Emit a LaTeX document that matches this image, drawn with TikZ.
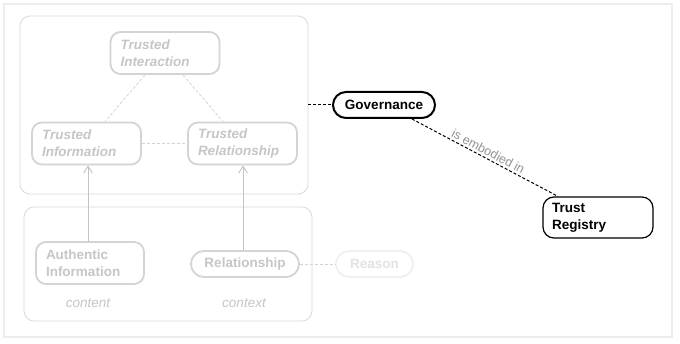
\documentclass[tikz,border=0pt]{standalone}
\usepackage{fontspec}
\setmainfont{Liberation Sans}
\usetikzlibrary{arrows.meta,positioning}
\definecolor{fadeline}{HTML}{D4D4D4}
\definecolor{fadetext}{HTML}{C6C6C6}
\definecolor{groupline}{HTML}{DADADA}
\definecolor{frameline}{HTML}{EDEDED}
\definecolor{ghost}{HTML}{F0F0F0}
\definecolor{ghosttext}{HTML}{E2E2E2}
\tikzset{
  fnt/.style={font=\fontsize{13.5}{17}\selectfont\bfseries},
  fadebox/.style={draw=fadeline, line width=1.8pt, rounded corners=10pt, fnt, text=fadetext,
     align=left, inner sep=0pt, minimum height=42pt},
  pillbox/.style={draw=fadeline, line width=1.8pt, rounded corners=13pt, fnt, text=fadetext,
     inner sep=0pt, minimum height=26pt},
  groupbox/.style={draw=groupline, line width=0.8pt, rounded corners=10pt, inner sep=0pt},
  govbox/.style={draw=black, line width=2pt, rounded corners=13pt, fnt, text=black,
     inner sep=0pt, minimum height=26pt, minimum width=102pt},
  regbox/.style={draw=black, line width=1.2pt, rounded corners=11pt, fnt, text=black,
     align=left, inner sep=0pt, minimum height=41pt, minimum width=110pt},
  dashgray/.style={draw=fadeline, line width=0.8pt, dash pattern=on 3pt off 2pt},
  dashblack/.style={draw=black, line width=1pt, dash pattern=on 3pt off 2pt},
  uparrow/.style={draw=fadeline!80!gray, line width=0.9pt, -{Straight Barb[length=7pt,width=9pt,line width=0.9pt]}},
  note/.style={font=\fontsize{13.5}{17}\selectfont\itshape, text=fadetext},
  edgelabel/.style={sloped, above=2pt, inner sep=0pt, font=\fontsize{12.5}{15}\selectfont, text=gray!85},
}
\begin{document}
\begin{tikzpicture}[x=1pt,y=-1pt]
\useasboundingbox[fill=white] (0,0) rectangle (680,344);
\draw[frameline, line width=2.5pt] (4,4) rectangle (672,337);

% group boxes
\node[groupbox, minimum width=288pt, minimum height=178pt] (upper) at (164,105) {};
\node[groupbox, minimum width=288pt, minimum height=114pt] (lower) at (168,264) {};

% upper nodes
\node[fadebox, minimum width=109pt, text width=89pt] (tint) at (165,53) {\itshape Trusted\\\itshape Interaction};
\node[fadebox, minimum width=109pt, text width=89pt] (tinfo) at (86.5,143.5) {\itshape Trusted\\\itshape Information};
\node[fadebox, minimum width=109pt, text width=89pt] (trel) at (242.5,143.5) {\itshape Trusted\\\itshape Relationship};

% lower nodes
\node[fadebox, minimum width=108pt, text width=88pt] (auth) at (90,263) {Authentic\\Information};
\node[pillbox, minimum width=108pt] (rel) at (245,264) {Relationship};
\node[pillbox, draw=ghost, text=ghosttext, minimum width=77pt] (reason) at (374.5,264) {Reason};
\node[note] (content) at (88,303) {content};
\node[note] (context) at (244,303) {context};

% right nodes
\node[govbox] (gov) at (384,105) {Governance};
\node[regbox, text width=92pt] (reg) at (598,217.5) {Trust\\Registry};

% connectors
\draw[dashgray] ([xshift=-20pt]tint.south) -- ([xshift=18.5pt]tinfo.north);
\draw[dashgray] ([xshift=18pt]tint.south) -- ([xshift=-19.5pt]trel.north);
\draw[dashgray] (tinfo.east) -- (trel.west);
\draw[dashgray] (rel.east) -- (reason.west);
\draw[uparrow] ([xshift=-2pt]auth.north) -- ([xshift=-2pt]auth.north |- tinfo.south);
\draw[uparrow] ([xshift=-2pt]rel.north) -- ([xshift=-2pt]rel.north |- trel.south);
\draw[dashblack] (upper.east |- gov.west) -- (gov.west);
\draw[dashblack] ([xshift=28pt]gov.south) -- node[edgelabel] (emb) {is embodied in} ([xshift=-40pt]reg.north);
\end{tikzpicture}
\end{document}
